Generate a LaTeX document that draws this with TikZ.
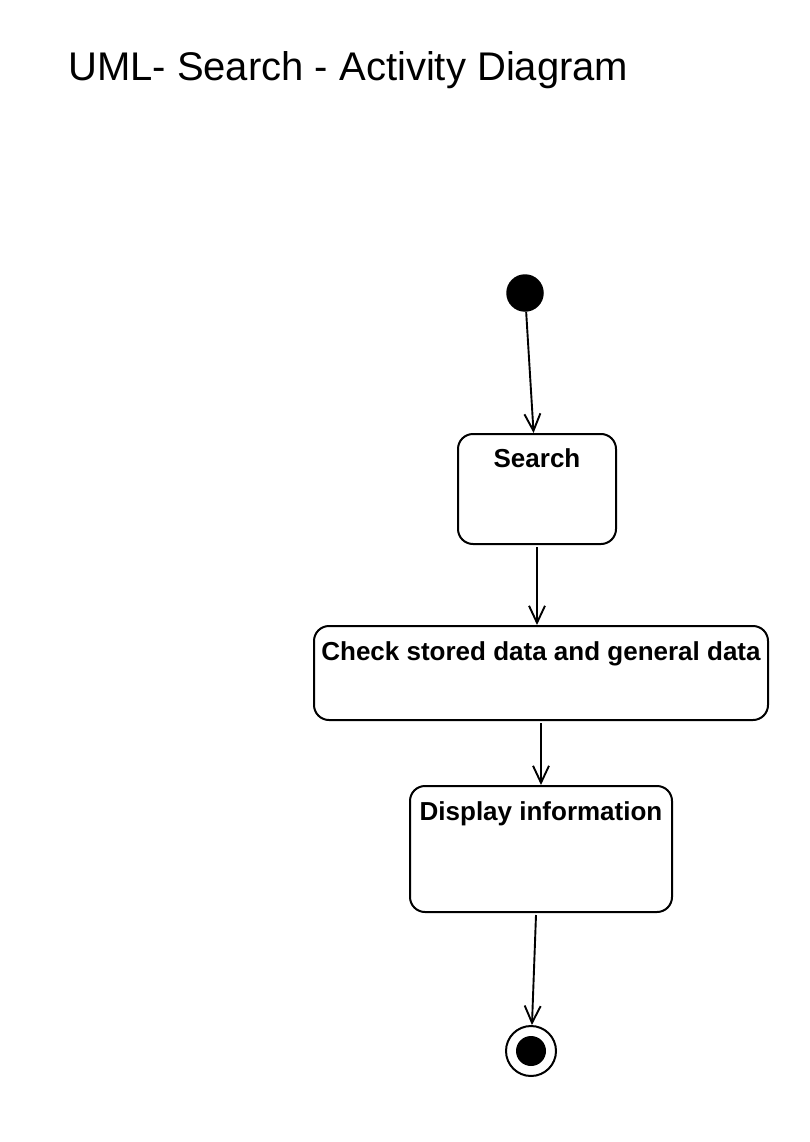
\documentclass[tikz,border=0pt]{standalone}
\usepackage{fontspec}
\setmainfont{Liberation Sans}
\usetikzlibrary{arrows.meta}
\begin{document}
\begin{tikzpicture}[x=1pt,y=-1pt,
  actbox/.style={draw,line width=2pt,rounded corners=15pt,inner sep=0pt},
  acttext/.style={anchor=base,font=\fontsize{26}{31}\selectfont\bfseries,inner sep=0pt},
  flow/.style={line width=1.9pt,-{Straight Barb[length=17pt,width=16pt,line width=1.9pt]}},
  startnode/.style={circle,fill=black,minimum size=37.5pt,inner sep=0pt},
  endouter/.style={circle,draw,line width=2pt,minimum size=50pt,inner sep=0pt},
  endinner/.style={circle,fill=black,minimum size=30pt,inner sep=0pt}]
\useasboundingbox[fill=white] (0,0) rectangle (810,1142);
\node[anchor=base west,inner sep=0pt,font=\fontsize{40}{48}\selectfont] (title) at (68,81) {UML- Search - Activity Diagram};
\node[startnode] (init) at (525,293) {};
\node[actbox,minimum width=158pt,minimum height=110pt] (search) at (537,489) {};
\node[acttext] (searcht) at (537,467) {Search};
\node[actbox,minimum width=454pt,minimum height=94pt] (check) at (541,673) {};
\node[acttext] (checkt) at (541,660) {Check stored data and general data};
\node[actbox,minimum width=262pt,minimum height=126pt] (display) at (541,849) {};
\node[acttext] (displayt) at (541,820) {Display information};
\node[endouter] (final) at (531,1051) {};
\node[endinner] (finalin) at (531,1051) {};
\draw[flow] (init) -- (search);
\draw[flow] ([yshift=-2pt]search.south) -- (search.south |- check.north);
\draw[flow] ([yshift=-2pt]check.south) -- (check.south |- display.north);
\draw[flow] ([yshift=-2pt]display.south -| 536,0) -- (final);
\end{tikzpicture}
\end{document}
